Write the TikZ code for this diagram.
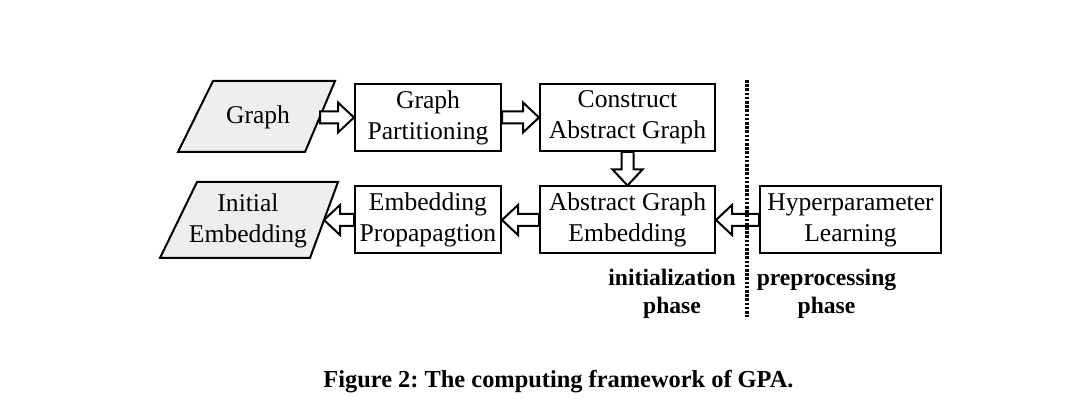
\documentclass[tikz,border=0pt]{standalone}
\usepackage{fontspec}
\setmainfont{Liberation Serif}
\frenchspacing
\usetikzlibrary{calc}
\definecolor{parafill}{HTML}{EEEEEE}
\tikzset{
  box/.style={draw, line width=1pt, inner sep=0pt, minimum width=#1, minimum height=33.5pt,
    align=center, font=\fontsize{12.8}{15.5}\selectfont},
  txt/.style={inner sep=0pt, align=center, font=\fontsize{12.8}{15.5}\selectfont},
  para/.style={draw, line width=1pt, fill=parafill, line join=miter},
  phase/.style={inner sep=0pt, align=center, font=\fontsize{11.8}{14}\selectfont\bfseries},
  harrow/.style={draw, line width=1pt, fill=white, line join=miter},
  sepline/.style={line width=1.6pt, dash pattern=on 1.3pt off 0.8pt},
}
% hollow arrow from #1 (tail) to #2 (tip)
\newcommand{\hollowarrow}[2]{%
  \path[harrow] ($(#1)!3pt!90:(#2)$) -- ($($(#2)!8pt!(#1)$)!3pt!-90:(#1)$)
    -- ($($(#2)!8pt!(#1)$)!7.5pt!-90:(#1)$) -- (#2)
    -- ($($(#2)!8pt!(#1)$)!7.5pt!90:(#1)$)
    -- ($($(#2)!8pt!(#1)$)!3pt!90:(#1)$)
    -- ($(#1)!3pt!-90:(#2)$) -- cycle;}
\begin{document}
\begin{tikzpicture}[x=0.5pt,y=-0.5pt]
\useasboundingbox (0,0) rectangle (1080,416);
% parallelogram Graph
\coordinate (gtl) at (213,81);
\coordinate (gtr) at (335,81);
\coordinate (gbr) at (305,152);
\coordinate (gbl) at (178,152);
\path[para] (gtl) -- (gtr) -- (gbr) -- (gbl) -- cycle;
\node[txt] (graph) at (258,117.5) {Graph};
\coordinate (gmid) at ($(gtr)!0.5!(gbr)$);
% parallelogram Initial Embedding
\coordinate (itl) at (197,182);
\coordinate (itr) at (338,182);
\coordinate (ibr) at (310,258);
\coordinate (ibl) at (160,258);
\path[para] (itl) -- (itr) -- (ibr) -- (ibl) -- cycle;
\node[txt] (initemb) at (248,221) {Initial\\Embedding};
\coordinate (imid) at ($(itr)!0.5!(ibr)$);
% boxes
\node[box=73pt] (gp) at (428,117.5) {Graph\\Partitioning};
\node[box=87.5pt] (cag) at (627.5,117.5) {Construct\\Abstract Graph};
\node[box=87.5pt] (age) at (627.5,220) {Abstract Graph\\Embedding};
\node[box=73pt] (ep) at (428,220) {Embedding\\Propapagtion};
\node[box=90.5pt] (hl) at (850.5,220) {Hyperparameter\\Learning};
% hollow arrows
\coordinate (a1t) at (gmid |- gp.west);
\hollowarrow{a1t}{gp.west}
\hollowarrow{gp.east}{cag.west}
\hollowarrow{cag.south}{age.north}
\hollowarrow{hl.west}{age.east}
\hollowarrow{age.west}{ep.east}
\coordinate (a6h) at (imid |- ep.west);
\hollowarrow{ep.west}{a6h}
% dotted separator (drawn over the arrow)
\coordinate (dtop) at (747,80);
\coordinate (dbot) at (747,317);
\draw[sepline] (dtop) -- (dbot);
% phase labels
\node[phase] (initph) at (672,294) {initialization\\phase};
\node[phase] (preph) at (826.5,294) {preprocessing\\phase};
% caption
\node[anchor=base, inner sep=0pt, font=\fontsize{12.2}{14}\selectfont\bfseries] (cap) at (558.5,387) {Figure 2: The computing framework of GPA.};
\end{tikzpicture}
\end{document}
